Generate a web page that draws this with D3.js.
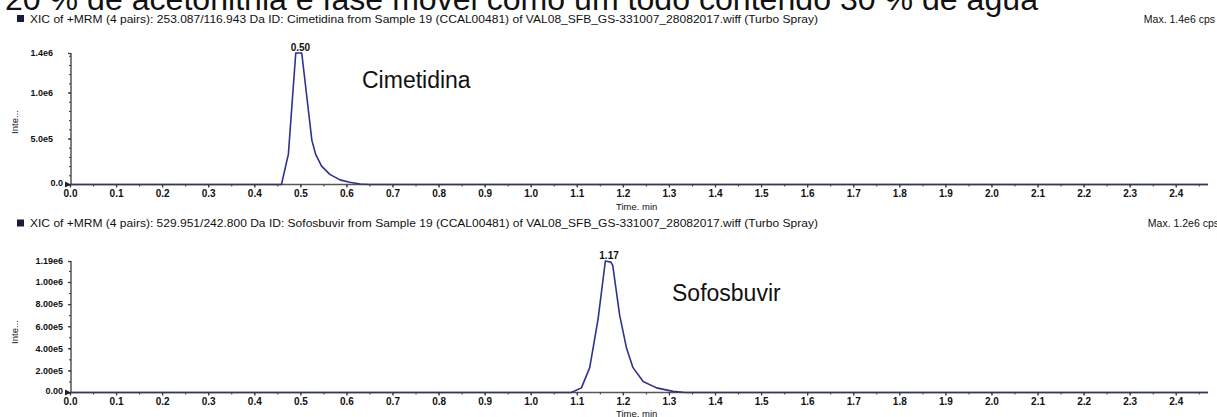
<!DOCTYPE html>
<html>
<head>
<meta charset="utf-8">
<script src="https://cdn.jsdelivr.net/npm/d3@7"></script>
<style>
  body { margin: 0; background: #fff; }
  svg { display: block; }
  text { font-family: "Liberation Sans", Arial, sans-serif; fill: #111; }
</style>
</head>
<body>
<svg id="chart" width="1217" height="417"></svg>
<script>
// ---- content -------------------------------------------------------------
const heading = "20 % de acetonitrila e fase móvel como um todo contendo 30 % de água";
const panelTitles = [
  "XIC of +MRM (4 pairs): 253.087/116.943 Da ID: Cimetidina from Sample 19 (CCAL00481) of VAL08_SFB_GS-331007_28082017.wiff (Turbo Spray)",
  "XIC of +MRM (4 pairs): 529.951/242.800 Da ID: Sofosbuvir from Sample 19 (CCAL00481) of VAL08_SFB_GS-331007_28082017.wiff (Turbo Spray)"
];
const maxLabels = ["Max. 1.4e6 cps", "Max. 1.2e6 cps"];
const compounds = ["Cimetidina", "Sofosbuvir"];
const retentionTimes = [0.50, 1.17];
const retentionLabels = ["0.50", "1.17"];
const yAxisLabel = "Inte...";
const xAxisLabel = "Time. min";

// time axis (min)
const xTickValues = [0.0, 0.1, 0.2, 0.3, 0.4, 0.5, 0.6, 0.7, 0.8, 0.9, 1.0, 1.1, 1.2,
                     1.3, 1.4, 1.5, 1.6, 1.7, 1.8, 1.9, 2.0, 2.1, 2.2, 2.3, 2.4];
const xTickLabels = ["0.0", "0.1", "0.2", "0.3", "0.4", "0.5", "0.6", "0.7", "0.8", "0.9", "1.0", "1.1", "1.2",
                     "1.3", "1.4", "1.5", "1.6", "1.7", "1.8", "1.9", "2.0", "2.1", "2.2", "2.3", "2.4"];
const timeEnd = 2.47;

// Cimetidina trace
const cimetidinaTime      = [0.00, 0.459, 0.474, 0.490, 0.503, 0.525, 0.533, 0.546, 0.564, 0.586, 0.607, 0.630, 0.650, 2.47];
const cimetidinaIntensity = [0,    0,     3.3e5, 1.43e6, 1.43e6, 4.8e5, 3.3e5, 2.0e5, 1.1e5, 5.0e4, 2.5e4, 5.0e3, 0,     0];
const cimetidinaMax = 1.43e6;
const cimetidinaYTicks = [0, 5e5, 1e6, 1.43e6];
const cimetidinaYTickLabels = ["0.0", "5.0e5", "1.0e6", "1.4e6"];

// Sofosbuvir trace
const sofosbuvirTime      = [0.00, 1.088, 1.110, 1.128, 1.146, 1.162, 1.174, 1.178, 1.193, 1.208, 1.222, 1.244, 1.273, 1.309, 1.335, 2.47];
const sofosbuvirIntensity = [0,    0,     4.2e4, 2.25e5, 6.6e5, 1.19e6, 1.18e6, 1.15e6, 7.0e5, 4.0e5, 2.25e5, 1.0e5, 4.2e4, 1.0e4, 0,    0];
const sofosbuvirMax = 1.19e6;
const sofosbuvirYTicks = [0, 2e5, 4e5, 6e5, 8e5, 1e6, 1.19e6];
const sofosbuvirYTickLabels = ["0.00", "2.00e5", "4.00e5", "6.00e5", "8.00e5", "1.00e6", "1.19e6"];

// ---- drawing --------------------------------------------------------------
const svg = d3.select("#chart");
const traceColor = "#2e3192";
const axisColor = "#3a3a3a";

// shared time scale
const x = d3.scaleLinear().domain([0, timeEnd]).range([70, 1208]);

// page heading (partly above the top edge)
svg.append("text")
  .attr("x", 5).attr("y", 10)
  .attr("font-size", 31)
  .attr("textLength", 1033).attr("lengthAdjust", "spacingAndGlyphs")
  .text(heading);

const panels = [
  { title: panelTitles[0], max: maxLabels[0], name: compounds[0], rt: retentionTimes[0], rtLabel: retentionLabels[0],
    t: cimetidinaTime, v: cimetidinaIntensity, yMax: cimetidinaMax,
    yTicks: cimetidinaYTicks, yLabels: cimetidinaYTickLabels,
    layout: { titleY: 22.5, top: 53, base: 184.5, labelRight: 56, nameX: 362, nameY: 88, timeY: 210, inteY: 122, maxX: 1215 } },
  { title: panelTitles[1], max: maxLabels[1], name: compounds[1], rt: retentionTimes[1], rtLabel: retentionLabels[1],
    t: sofosbuvirTime, v: sofosbuvirIntensity, yMax: sofosbuvirMax,
    yTicks: sofosbuvirYTicks, yLabels: sofosbuvirYTickLabels,
    layout: { titleY: 227, top: 261, base: 392.5, labelRight: 66, nameX: 672, nameY: 301, timeY: 417, inteY: 332, maxX: 1219 } }
];

panels.forEach(p => {
  const L = p.layout;
  const g = svg.append("g");
  const y = d3.scaleLinear().domain([0, p.yMax]).range([L.base, L.top]);

  // title line with its square marker
  g.append("rect").attr("x", 17).attr("y", L.titleY - 7.5).attr("width", 7).attr("height", 7).attr("fill", "#1a1a3a");
  g.append("text").attr("x", 30).attr("y", L.titleY)
    .attr("font-size", 11.2)
    .attr("textLength", 788).attr("lengthAdjust", "spacingAndGlyphs")
    .text(p.title);
  g.append("text").attr("x", L.maxX).attr("y", L.titleY)
    .attr("text-anchor", "end").attr("font-size", 10.5)
    .text(p.max);

  // minor time ticks
  const minor = d3.range(0, timeEnd, 0.05);
  g.append("g").attr("transform", `translate(0,${L.base})`)
    .call(d3.axisBottom(x).tickValues(minor).tickSize(2).tickFormat(""))
    .call(s => s.select(".domain").remove())
    .call(s => s.selectAll("line").attr("stroke", axisColor));

  // major time ticks and labels
  g.append("g").attr("transform", `translate(0,${L.base})`)
    .call(d3.axisBottom(x).tickValues(xTickValues).tickSize(3).tickPadding(2)
      .tickFormat((d, i) => xTickLabels[i]))
    .call(s => s.select(".domain").remove())
    .call(s => s.selectAll("line").attr("stroke", axisColor).attr("stroke-width", 1.3))
    .call(s => s.selectAll("text").attr("font-size", 10).attr("font-weight", "bold")
      .attr("font-family", "'Liberation Sans', Arial, sans-serif").attr("fill", "#111"));

  // intensity minor ticks
  const yMinor = d3.range(0, p.yMax, 1e5);
  g.append("g").attr("transform", `translate(71,0)`)
    .call(d3.axisLeft(y).tickValues(yMinor).tickSize(2).tickFormat(""))
    .call(s => s.select(".domain").remove())
    .call(s => s.selectAll("line").attr("stroke", axisColor));

  // intensity major ticks and labels
  const ya = g.append("g").attr("transform", `translate(71,0)`)
    .call(d3.axisLeft(y).tickValues(p.yTicks).tickSize(3).tickPadding(71 - L.labelRight)
      .tickFormat((d, i) => p.yLabels[i]))
    .call(s => s.select(".domain").remove())
    .call(s => s.selectAll("line").attr("stroke", axisColor).attr("stroke-width", 1.3))
    .call(s => s.selectAll("text").attr("font-size", 9).attr("font-weight", "bold")
      .attr("font-family", "'Liberation Sans', Arial, sans-serif").attr("fill", "#111"));
  // the zero label sits next to the origin marker
  ya.selectAll(".tick").filter(d => d === 0).select("text").attr("x", -8).attr("dy", "0.1em");

  // axis lines
  g.append("line").attr("x1", 71).attr("x2", 71).attr("y1", L.top).attr("y2", L.base)
    .attr("stroke", axisColor).attr("stroke-width", 1.3);

  // trace
  const pts = p.t.map((t, i) => [t, p.v[i]]);
  g.append("path").datum(pts)
    .attr("fill", "none").attr("stroke", traceColor).attr("stroke-width", 1.6)
    .attr("stroke-linejoin", "round")
    .attr("d", d3.line().x(d => x(d[0])).y(d => y(d[1])));

  g.append("line").attr("x1", 70).attr("x2", 1208).attr("y1", L.base).attr("y2", L.base)
    .attr("stroke", axisColor).attr("stroke-width", 1.6).attr("stroke-opacity", 0.85);

  // origin marker
  g.append("path")
    .attr("d", `M65,${L.base - 3}L71,${L.base}L65,${L.base + 3}Z`)
    .attr("fill", "#222");

  // retention time label over the apex
  g.append("text").attr("x", x(p.rt)).attr("y", y(p.yMax) - 2.5)
    .attr("text-anchor", "middle").attr("font-size", 10).attr("font-weight", "bold")
    .text(p.rtLabel);

  // compound name
  g.append("text").attr("x", L.nameX).attr("y", L.nameY)
    .attr("font-size", 23)
    .text(p.name);

  // axis titles
  g.append("text").attr("x", x(1.23)).attr("y", L.timeY)
    .attr("text-anchor", "middle").attr("font-size", 9.5)
    .text(xAxisLabel);
  g.append("text")
    .attr("transform", `translate(18,${L.inteY}) rotate(-90)`)
    .attr("text-anchor", "middle").attr("font-size", 9.5)
    .text(yAxisLabel);
});
</script>
</body>
</html>
